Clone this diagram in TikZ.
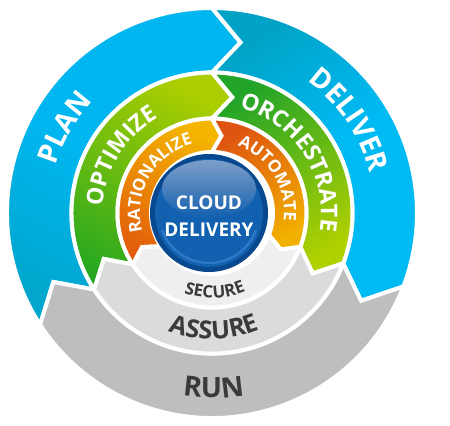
\documentclass[tikz,border=0pt]{standalone}
\usepackage{fontspec}
\setmainfont{Open Sans}
\usetikzlibrary{decorations.text}

\definecolor{planblue}{RGB}{0, 182, 240}
\definecolor{planteal}{RGB}{0, 166, 204}
\definecolor{delivteal}{RGB}{0, 163, 198}
\definecolor{delivblue}{RGB}{0, 186, 244}
\definecolor{optlime}{RGB}{172, 206, 0}
\definecolor{optgreen}{RGB}{40, 168, 32}
\definecolor{orchgreen}{RGB}{34, 164, 40}
\definecolor{orchlime}{RGB}{176, 208, 0}
\definecolor{ratred}{RGB}{226, 92, 12}
\definecolor{ratgold}{RGB}{244, 180, 0}
\definecolor{autored}{RGB}{222, 84, 16}
\definecolor{autogold}{RGB}{242, 176, 0}
\definecolor{rungrey}{RGB}{190, 190, 190}
\definecolor{assuregrey}{RGB}{219, 219, 219}
\definecolor{securegrey}{RGB}{239, 239, 239}
\definecolor{labelgrey}{RGB}{58, 58, 58}
\definecolor{discrim}{RGB}{8, 72, 142}
\definecolor{discbody}{RGB}{18, 96, 176}
\definecolor{discglow}{RGB}{125, 158, 200}
\definecolor{discedge}{RGB}{60, 130, 210}

\newcommand{\outerfont}{\fontsize{14}{14}\selectfont\bfseries}
\newcommand{\midfont}{\fontsize{11.5}{11.5}\selectfont\bfseries}
\newcommand{\assurefont}{\fontsize{12.5}{12.5}\selectfont\bfseries}
\newcommand{\innerfont}{\fontsize{8.5}{8.5}\selectfont\bfseries}
\newcommand{\corefont}{\fontsize{9.5}{13.5}\selectfont\bfseries}

\tikzset{
  ringseg/.style={draw=white, line width=2pt},
  ringtext/.style={decorate, decoration={text along path, text align=center, text color=white}},
  greytext/.style={ringtext, decoration={text color=labelgrey}},
}

\begin{document}
\begin{tikzpicture}[x=0.5pt, y=0.5pt]
  \useasboundingbox (-212,-212) rectangle (238,213);
  \coordinate (hub) at (0,0);

  % Outer ring: plan, deliver, run
  \path[ringseg, top color=planblue, bottom color=planteal, middle color=planblue, shading angle=-29]
    (213:205) arc[start angle=213, end angle=90, radius=205] -- (80.5:173) -- (90:140.5)
    arc[start angle=90, end angle=213, radius=140.5] -- (203.5:173) -- cycle;
  \path[ringseg, top color=delivteal, bottom color=delivblue, middle color=delivblue, shading angle=34]
    (90:205) arc[start angle=90, end angle=-21, radius=205] -- (-30.5:173) -- (-21:140.5)
    arc[start angle=-21, end angle=90, radius=140.5] -- (80.5:173) -- cycle;
  \path[ringseg, fill=rungrey]
    (-21:205) arc[start angle=-21, end angle=-147, radius=205] -- (-156.5:173) -- (-147:140.5)
    arc[start angle=-147, end angle=-21, radius=140.5] -- (-30.5:173) -- cycle;

  % Middle ring: optimize, orchestrate, assure
  \path[ringseg, top color=optlime, bottom color=optgreen, shading angle=-29]
    (213:140.5) arc[start angle=213, end angle=90, radius=140.5] -- (80:117.5) -- (90:94.5)
    arc[start angle=90, end angle=213, radius=94.5] -- (203:117.5) -- cycle;
  \path[ringseg, top color=orchgreen, bottom color=orchlime, shading angle=34]
    (90:140.5) arc[start angle=90, end angle=-21, radius=140.5] -- (-31:117.5) -- (-21:94.5)
    arc[start angle=-21, end angle=90, radius=94.5] -- (80:117.5) -- cycle;
  \path[ringseg, fill=assuregrey]
    (-21:140.5) arc[start angle=-21, end angle=-147, radius=140.5] -- (-157:117.5) -- (-147:94.5)
    arc[start angle=-147, end angle=-21, radius=94.5] -- (-31:117.5) -- cycle;

  % Inner ring: rationalize, automate, secure
  \path[ringseg, top color=ratgold, bottom color=ratred, shading angle=-29]
    (213:94.5) arc[start angle=213, end angle=90, radius=94.5] -- (83:77.75) -- (90:61)
    arc[start angle=90, end angle=213, radius=61] -- (206:77.75) -- cycle;
  \path[ringseg, top color=autored, bottom color=autogold, shading angle=34]
    (90:94.5) arc[start angle=90, end angle=-21, radius=94.5] -- (-28:77.75) -- (-21:61)
    arc[start angle=-21, end angle=90, radius=61] -- (83:77.75) -- cycle;
  \path[ringseg, fill=securegrey]
    (-21:94.5) arc[start angle=-21, end angle=-147, radius=94.5] -- (-154:77.75) -- (-147:61)
    arc[start angle=-147, end angle=-21, radius=61] -- (-28:77.75) -- cycle;

  % Ring labels
  \path[ringtext, decoration={text={|\outerfont|PLAN}}] (200:163) arc[start angle=200, end angle=100, radius=163];
  \path[ringtext, decoration={text={|\outerfont|DELIVER}}] (84:163) arc[start angle=84, end angle=-16, radius=163];
  \path[greytext, decoration={text={|\outerfont|RUN}}] (240:185) arc[start angle=240, end angle=301, radius=185];
  \path[ringtext, decoration={text={|\midfont|OPTIMIZE}}] (198:109) arc[start angle=198, end angle=98, radius=109];
  \path[ringtext, decoration={text={|\midfont|ORCHESTRATE}}] (83:109) arc[start angle=83, end angle=-17, radius=109];
  \path[greytext, decoration={text={|\assurefont|ASSURE}}] (241:126) arc[start angle=241, end angle=301, radius=126];
  \path[ringtext, decoration={text={|\innerfont|RATIONALIZE}}] (200:72) arc[start angle=200, end angle=100, radius=72];
  \path[ringtext, decoration={text={|\innerfont|AUTOMATE}}] (81.5:72) arc[start angle=81.5, end angle=-18.5, radius=72];
  \path[greytext, decoration={text={|\innerfont|SECURE}}] (242:85) arc[start angle=242, end angle=302, radius=85];

  % Central disc
  \coordinate (core) at (-3,0);
  \fill[discrim] (core) circle[radius=59];
  \fill[discbody] (core) circle[radius=54];
  \shade[top color=discglow, bottom color=discbody] (core) ++(0,24) ellipse[x radius=47, y radius=29];
  \draw[discedge, opacity=0.7, line width=1.2pt] (core) ++(-160:50) arc[start angle=-160, end angle=-20, radius=50];
  \node[align=center, text=white, font=\corefont] (label) at (-3,-3) {CLOUD\\DELIVERY};
\end{tikzpicture}
\end{document}
